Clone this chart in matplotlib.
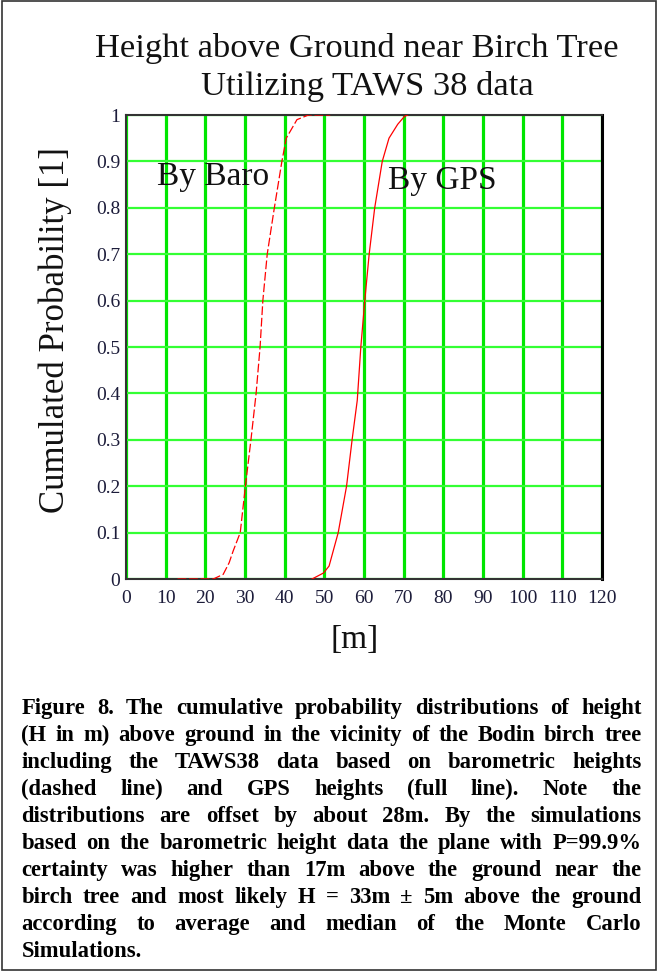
import matplotlib
matplotlib.use("Agg")
import matplotlib.pyplot as plt
from matplotlib.patches import Rectangle

# ---------------- data ----------------
baro_x = [13, 22, 24.5, 26, 27, 28.8, 30.1, 31.5, 32.8, 33.8, 34.5, 35.6, 37.4, 39.3, 40.4, 43.1, 46, 51.5]
baro_y = [0, 0, 0.01, 0.035, 0.06, 0.1, 0.2, 0.3, 0.4, 0.5, 0.6, 0.7, 0.8, 0.9, 0.95, 0.99, 1.0, 1.0]

gps_x = [46.9, 49.8, 51.2, 53.5, 55.6, 57.0, 58.3, 59.2, 60.2, 61.3, 62.7, 64.6, 66.3, 68.5, 69.5, 70.2, 71.0]
gps_y = [0, 0.013, 0.028, 0.1, 0.2, 0.3, 0.385, 0.5, 0.6, 0.7, 0.8, 0.9, 0.95, 0.98, 0.99, 0.997, 1.0]

x_ticks = list(range(0, 121, 10))
x_ticklabels = [str(v) for v in x_ticks]
y_ticks = [i / 10 for i in range(11)]
y_ticklabels = ["0", "0.1", "0.2", "0.3", "0.4", "0.5", "0.6", "0.7", "0.8", "0.9", "1"]

title_lines = ["Height above Ground near Birch Tree", "Utilizing TAWS 38 data"]
y_label = "Cumulated Probability [1]"
x_label = "[m]"
annot_baro = "By Baro"
annot_gps = "By GPS"

caption_lines = [
    "Figure 8. The cumulative probability distributions of height",
    "(H in m) above ground in the vicinity of the Bodin birch tree",
    "including the TAWS38 data based on barometric heights",
    "(dashed line) and GPS heights (full line). Note the",
    "distributions are offset by about 28m. By the simulations",
    "based on the barometric height data the plane with P=99.9%",
    "certainty was higher than 17m above the ground near the",
    "birch tree and most likely H = 33m \u00b1 5m above the ground",
    "according to average and median of the Monte Carlo",
    "Simulations.",
]

# ---------------- figure ----------------
W, H = 657, 971
fig = plt.figure(figsize=(W / 100, H / 100), dpi=100)
serif = "Liberation Serif"

left, right, top, bottom = 126, 602, 115, 579
ax = fig.add_axes([left / W, 1 - bottom / H, (right - left) / W, (bottom - top) / H])

ax.plot(baro_x, baro_y, color="#ff0000", lw=0.9, dashes=(7, 2.2), zorder=3)
ax.plot(gps_x, gps_y, color="#ff0000", lw=0.9, zorder=3)

ax.set_xlim(0, 120)
ax.set_ylim(0, 1)
ax.set_xticks(x_ticks)
ax.set_xticklabels(x_ticklabels, fontfamily=serif, fontsize=14, color="#1c1c3a")
ax.set_yticks(y_ticks)
ax.set_yticklabels(y_ticklabels, fontfamily=serif, fontsize=14, color="#1c1c3a")
ax.tick_params(axis="both", length=0)
ax.tick_params(axis="x", pad=8)
ax.tick_params(axis="y", pad=4)

ax.xaxis.grid(True, color="#00e600", lw=2.3)
ax.yaxis.grid(True, color="#33ff33", lw=1.6)
ax.set_axisbelow(True)

for s in ["left", "top", "bottom"]:
    ax.spines[s].set_color("#333333")
    ax.spines[s].set_linewidth(1.5)
ax.spines["right"].set_color("#000000")
ax.spines["right"].set_linewidth(2.2)

ax.text(22, 0.866, annot_baro, fontfamily=serif, fontsize=24, ha="center", va="center", color="#111111")
ax.text(79.8, 0.858, annot_gps, fontfamily=serif, fontsize=24, ha="center", va="center", color="#111111")

# titles & labels
fig.text(357 / W, 1 - 48 / H, title_lines[0], fontfamily=serif, fontsize=24.8, ha="center", va="center", color="#111111")
fig.text(367 / W, 1 - 86 / H, title_lines[1], fontfamily=serif, fontsize=24.8, ha="center", va="center", color="#111111")
fig.text(55 / W, 1 - 330 / H, y_label, fontfamily=serif, fontsize=25, rotation=90, ha="center", va="center", color="#111111")
fig.text(355 / W, 1 - 640 / H, x_label, fontfamily=serif, fontsize=24, ha="center", va="center", color="#111111")

# border
fig.patches.append(Rectangle((1.5 / W, 1.5 / H), (W - 3) / W, (H - 3) / H, transform=fig.transFigure,
                             fill=False, ec="#333333", lw=1.2))

# justified caption
fig.canvas.draw()
renderer = fig.canvas.get_renderer()
cap_left, cap_right = 21.5, 641.5
base0, step = 714, 27
for i, line in enumerate(caption_lines):
    yb = 1 - (base0 + step * i) / H
    words = line.split(" ")
    texts = [fig.text(0, yb, w, fontfamily=serif, fontsize=16.3, fontweight="bold",
                      ha="left", va="baseline", color="#000000") for w in words]
    widths = [t.get_window_extent(renderer).width for t in texts]
    if i == len(caption_lines) - 1 or len(words) == 1:
        space = texts[0].get_fontsize() * 0.25 * 100 / 72
    else:
        space = (cap_right - cap_left - sum(widths)) / (len(words) - 1)
    x = cap_left
    for t, w in zip(texts, widths):
        t.set_x(x / W)
        x += w + space

fig.savefig("out.png", dpi=100)
